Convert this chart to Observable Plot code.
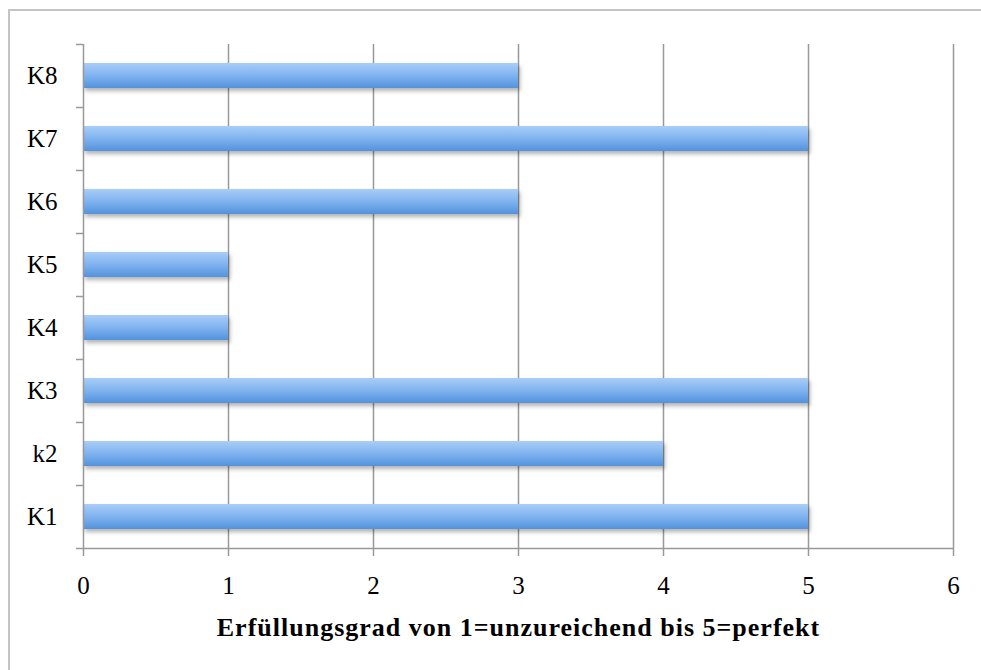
<!DOCTYPE html>
<html>
<head>
<meta charset="utf-8">
<script src="https://cdn.jsdelivr.net/npm/d3@7"></script>
<script src="https://cdn.jsdelivr.net/npm/@observablehq/plot@0.6"></script>
<style>
  html, body { margin: 0; padding: 0; background: #fff; }
  #wrap { position: relative; width: 981px; height: 670px; overflow: hidden; }
  #frame { position: absolute; left: 8px; top: 9px; width: 1100px; height: 800px;
           border-left: 2px solid #c4c4c4; border-top: 2px solid #c4c4c4; }
  #chart { position: absolute; left: 0; top: 0; }
</style>
</head>
<body>
<div id="wrap"><div id="frame"></div><div id="chart"></div></div>
<script>
const categories = ["K1", "k2", "K3", "K4", "K5", "K6", "K7", "K8"];
const values = [5, 4, 5, 1, 1, 3, 5, 3];
const xTicks = [0, 1, 2, 3, 4, 5, 6];
const yBoundaries = [0, 1, 2, 3, 4, 5, 6, 7, 8];
const xLabel = "Erfüllungsgrad von 1=unzureichend bis 5=perfekt";

const data = categories.map((c, i) => ({cat: c, idx: i, value: values[i]}));
const gridColor = "#999999";

const chart = Plot.plot({
  width: 981,
  height: 670,
  marginLeft: 83,
  marginRight: 28,
  marginTop: 44,
  marginBottom: 122,
  style: {fontFamily: "'Liberation Serif', serif", fontSize: "25px", color: "#000", background: "transparent"},
  x: {domain: [0, 6]},
  y: {domain: [0, 8]},
  marks: [
    Plot.gridX(xTicks.filter(t => t > 0), {stroke: gridColor, strokeOpacity: 1, strokeWidth: 1.5}),
    Plot.rectX(data, {
      x1: 0, x2: "value",
      y1: "idx", y2: d => d.idx + 1,
      insetTop: 19, insetBottom: 19,
      fill: "url(#barGrad)"
    }),
    Plot.ruleX([0], {stroke: gridColor, strokeWidth: 1.5}),
    Plot.ruleY([0], {stroke: gridColor, strokeWidth: 1.5}),
    Plot.axisX(xTicks, {tickSize: 8, tickPadding: 20, tickFormat: d => String(d), stroke: gridColor, strokeWidth: 1.5, fill: "#000", fontSize: 25, label: null}),
    Plot.axisY(yBoundaries, {tickSize: 7, tickFormat: () => "", stroke: gridColor, strokeWidth: 1.5, label: null}),
    Plot.text(data, {x: 0, y: d => d.idx + 0.5, text: "cat", textAnchor: "end", dx: -26, fontSize: 25, fill: "#000"}),
    Plot.text([xLabel], {text: d => d, frameAnchor: "bottom", dy: 79, fontWeight: "bold", fontSize: 26, fill: "#000", lineAnchor: "middle"})
  ]
});

const svg = d3.select(chart);
const defs = svg.insert("defs", ":first-child");
const grad = defs.append("linearGradient").attr("id", "barGrad")
  .attr("x1", 0).attr("y1", 0).attr("x2", 0).attr("y2", 1);
grad.append("stop").attr("offset", "0%").attr("stop-color", "#a9cdf7");
grad.append("stop").attr("offset", "50%").attr("stop-color", "#7fb3ef");
grad.append("stop").attr("offset", "100%").attr("stop-color", "#5392dc");
const f = defs.append("filter").attr("id", "shadow")
  .attr("x", "-5%").attr("y", "-50%").attr("width", "110%").attr("height", "220%");
f.append("feDropShadow").attr("dx", 2).attr("dy", 3).attr("stdDeviation", 2)
  .attr("flood-color", "#000").attr("flood-opacity", 0.3);
svg.select('g[aria-label="rect"]').attr("filter", "url(#shadow)");
svg.selectAll('g[aria-label="text"]').filter((d, i, n) => i === 1)
  .selectAll("text").attr("letter-spacing", "1px");

document.getElementById("chart").appendChild(chart);
</script>
</body>
</html>
